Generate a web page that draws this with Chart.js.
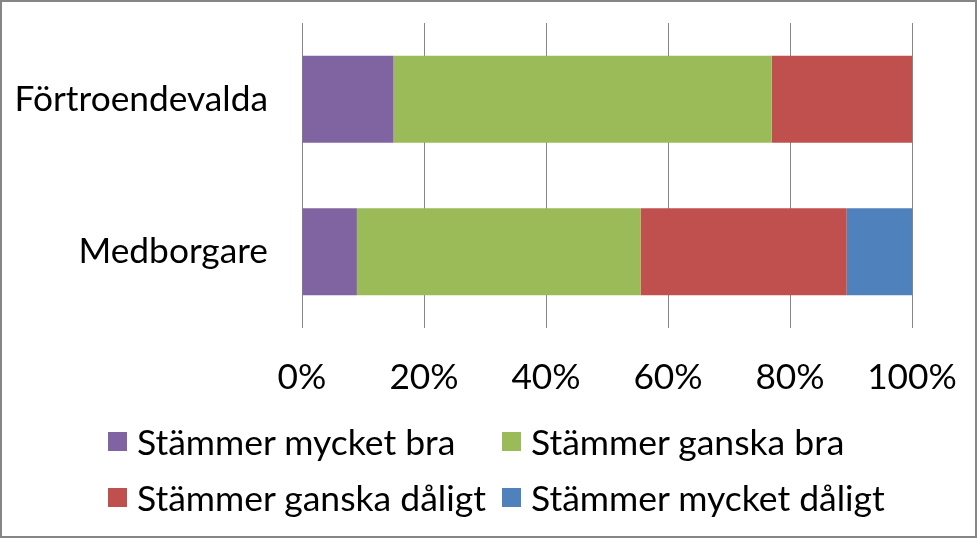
<!DOCTYPE html>
<html>
<head>
<meta charset="utf-8">
<script src="https://cdn.jsdelivr.net/npm/chart.js@4/dist/chart.umd.min.js"></script>
<style>
  html, body { margin: 0; padding: 0; background: #fff; }
  #wrap { position: relative; width: 977px; height: 538px; overflow: hidden; }
  #c { position: absolute; left: 0; top: 0; }
  #frame { position: absolute; left: 0; top: 0; width: 977px; height: 538px; box-sizing: border-box; border: 2px solid #868686; pointer-events: none; }
  #legend { position: absolute; left: 108px; top: 413px; display: grid; grid-template-columns: 394px auto; grid-auto-rows: 56px; font-family: Lato, sans-serif; font-size: 35.5px; color: #000; }
  .item { display: flex; align-items: center; white-space: nowrap; }
  .sw { width: 19px; height: 19px; margin-right: 10px; flex: none; }
</style>
</head>
<body>
<div id="wrap">
  <canvas id="c" width="977" height="538"></canvas>
  <div id="legend"></div>
  <div id="frame"></div>
</div>
<script>
const categories = ['Förtroendevalda', 'Medborgare'];
const seriesNames = ['Stämmer mycket bra', 'Stämmer ganska bra', 'Stämmer ganska dåligt', 'Stämmer mycket dåligt'];
const mycketBra = [15, 9];
const ganskaBra = [62, 46.5];
const ganskaDaligt = [23, 33.8];
const mycketDaligt = [0, 10.7];
const tickValues = [0, 20, 40, 60, 80, 100];
const colors = ['#8064A2', '#9BBB59', '#C0504D', '#4F81BD'];

const seriesData = [mycketBra, ganskaBra, ganskaDaligt, mycketDaligt];
const FONT = 'Lato, sans-serif';
const zeroPad = s => { s.paddingTop = 0; s.paddingBottom = 0; s.paddingLeft = 0; s.paddingRight = 0; };

const chart = new Chart(document.getElementById('c'), {
  type: 'bar',
  data: {
    labels: categories,
    datasets: seriesData.map((d, i) => ({
      label: seriesNames[i],
      data: d,
      backgroundColor: colors[i],
      borderWidth: 0,
      categoryPercentage: 1,
      barPercentage: 0.57
    }))
  },
  options: {
    indexAxis: 'y',
    responsive: false,
    animation: false,
    layout: { padding: { left: 0, top: 23, right: 65, bottom: 110 } },
    plugins: { legend: { display: false }, tooltip: { enabled: false } },
    scales: {
      x: {
        stacked: true,
        min: 0, max: 100,
        afterBuildTicks: s => { s.ticks = tickValues.map(v => ({ value: v })); },
        afterFit: s => { s.height = 100; zeroPad(s); },
        grid: { color: '#868686', lineWidth: 1, drawTicks: false },
        border: { display: false },
        ticks: { color: '#000', font: { family: FONT, size: 35.3 }, padding: 28, callback: v => v + '%', maxRotation: 0 }
      },
      y: {
        stacked: true,
        afterFit: s => { s.width = 302; zeroPad(s); },
        grid: { display: false, drawTicks: false },
        border: { display: false },
        ticks: { color: '#000', font: { family: FONT, size: 35.3 }, padding: 34 }
      }
    }
  }
});

const leg = document.getElementById('legend');
seriesNames.forEach((n, i) => {
  const it = document.createElement('div');
  it.className = 'item';
  const sw = document.createElement('span');
  sw.className = 'sw';
  sw.style.background = colors[i];
  const t = document.createElement('span');
  t.textContent = n;
  it.appendChild(sw); it.appendChild(t);
  leg.appendChild(it);
});
</script>
</body>
</html>
